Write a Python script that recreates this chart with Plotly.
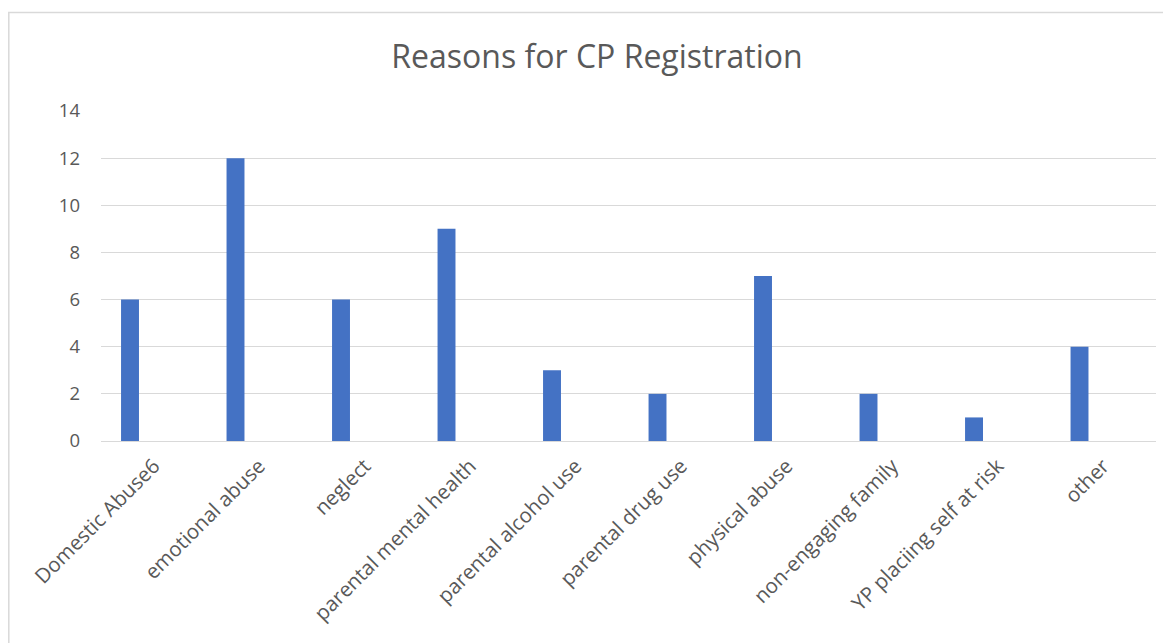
import plotly.graph_objects as go

categories = ["Domestic Abuse6", "emotional abuse", "neglect", "parental mental health",
              "parental alcohol use", "parental drug use", "physical abuse",
              "non-engaging family", "YP placiing self at risk", "other"]
counts = [6, 12, 6, 9, 3, 2, 7, 2, 1, 4]
y_ticks = [0, 2, 4, 6, 8, 10, 12, 14]

# page body has an 8px margin; figure placed inside it
W, H = 1163, 635
L, T = 93, 103
pw, ph = 1055, 330
R = W - L - pw
B = H - T - ph

def px_x(p):
    return (p - L) / pw

def px_y(p):
    return (T + ph - p) / ph

fig = go.Figure()
fig.add_trace(go.Bar(
    x=categories, y=counts,
    marker=dict(color="#4472C4", line=dict(width=0)),
    width=0.17, offset=-0.31,
    hoverinfo="x+y",
))

fig.update_layout(
    width=W, height=H,
    margin=dict(l=L, r=R, t=T, b=B),
    paper_bgcolor="white", plot_bgcolor="white",
    showlegend=False,
    font=dict(family="Open Sans", color="#595959"),
    title=dict(text="Reasons for CP Registration", x=589 / W, xref="container", xanchor="center",
               y=1 - 49 / H, yref="container", yanchor="middle",
               font=dict(size=32, color="#595959", family="Open Sans")),
    xaxis=dict(type="category", showgrid=False, showline=False, zeroline=False,
               tickangle=-45, tickfont=dict(size=20.5, color="#595959"),
               ticks="", ticklabelstandoff=8, range=[-0.5, 9.5]),
    yaxis=dict(range=[0, 14], tickvals=y_ticks, showgrid=True, gridcolor="#d9d9d9",
               gridwidth=1.3, zeroline=True, zerolinecolor="#d9d9d9", zerolinewidth=1.3,
               showline=False, ticks="", tickfont=dict(size=18.5, color="#595959"),
               ticklabelstandoff=20),
    shapes=[dict(type="rect", xref="paper", yref="paper",
                 x0=px_x(0.8), x1=px_x(1180), y0=px_y(4.5), y1=px_y(660),
                 line=dict(color="#d9d9d9", width=1.5), fillcolor="rgba(0,0,0,0)",
                 layer="below")],
)

fig.write_html("out.html")
